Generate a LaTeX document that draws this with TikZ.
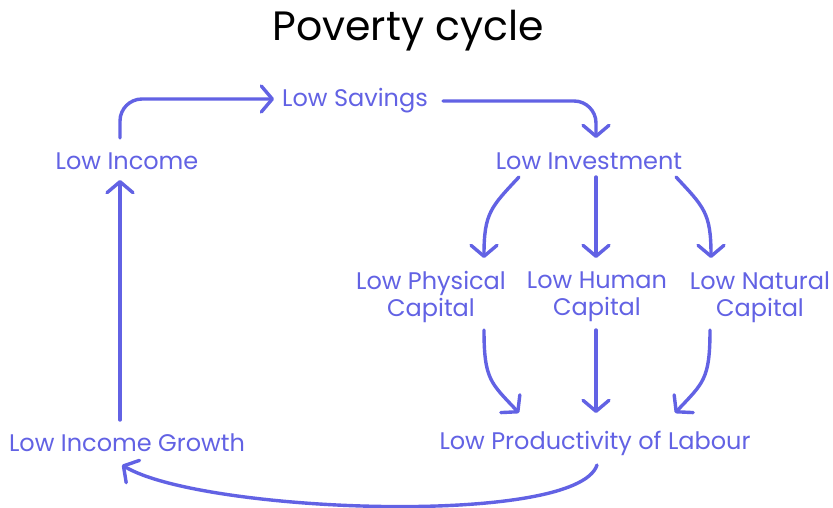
\documentclass[tikz,border=0pt]{standalone}
\usepackage{fontspec}
\setmainfont{Poppins}
\usetikzlibrary{arrows.meta,calc}
\definecolor{vio}{RGB}{98,98,228}
\tikzset{
  lbl/.style={text=vio, font=\fontsize{24}{27}\selectfont, inner sep=0pt, align=center},
  arr/.style={draw=vio, line width=3.4pt, line cap=round, line join=round,
    -{Straight Barb[length=11pt,width=26pt,round]}},
}
\begin{document}
\begin{tikzpicture}[x=1pt,y=-1pt]
\useasboundingbox[fill=white] (0,0) rectangle (833,508);
\node[font=\fontsize{41}{46}\selectfont] (title) at (408,31) {Poverty cycle};
\node[lbl] (sav) at (355,101) {Low Savings};
\node[lbl] (inc) at (127,161) {Low Income};
\node[lbl] (inv) at (589,161) {Low Investment};
\node[lbl] (phy) at (431,297) {Low Physical\\Capital};
\node[lbl] (hum) at (597,297) {Low Human\\Capital};
\node[lbl] (nat) at (760,297) {Low Natural\\Capital};
\node[lbl] (gro) at (127,443) {Low Income Growth};
\node[lbl] (pro) at (595,443) {Low Productivity of Labour};

\draw[arr, rounded corners=22pt] ($(inc)+(-7,-23)$) |- ($(sav)+(-81,-2)$);
\draw[arr, rounded corners=22pt] ($(sav)+(88,0)$) -| ($(inv)+(7,-23)$);
\draw[arr] ($(inv)+(-70,16)$) .. controls +(-28,30) and +(0,-45) .. ($(phy)+(53,-39)$);
\draw[arr] ($(inv)+(7,16)$) -- ($(hum)+(-1,-39)$);
\draw[arr] ($(inv)+(87,16)$) .. controls +(28,30) and +(0,-45) .. ($(nat)+(-49,-39)$);
\draw[arr] ($(phy)+(53,33)$) .. controls +(0,50) and +(-28,-30) .. ($(pro)+(-76,-30)$);
\draw[arr] ($(hum)+(-1,33)$) -- ($(pro)+(1,-30)$);
\draw[arr] ($(nat)+(-50,33)$) .. controls +(0,50) and +(28,-30) .. ($(pro)+(80,-30)$);
\draw[arr] ($(pro)+(2,22)$) .. controls +(-20,62) and +(80,48) .. ($(gro)+(-5,22)$);
\draw[arr] ($(gro)+(-7,-23)$) -- ($(inc)+(-7,19)$);
\end{tikzpicture}
\end{document}
